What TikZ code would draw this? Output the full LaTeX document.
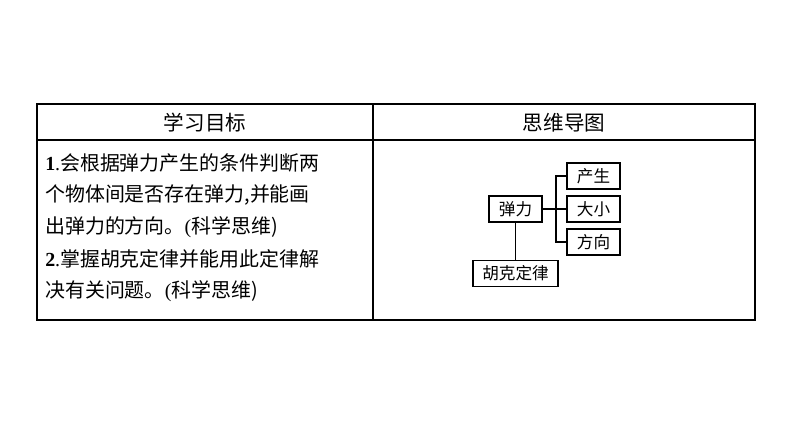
\documentclass[tikz,border=0pt]{standalone}
\usepackage{fontspec}
\setmainfont{Liberation Serif}
\newfontfamily\cjk{Noto Sans CJK SC}
\usetikzlibrary{positioning}
\tikzset{
  txt/.style={anchor=west, inner sep=0pt, font=\fontsize{15pt}{17pt}\selectfont},
  mapbox/.style={draw, line width=0.8pt, minimum height=26\px, inner sep=2pt, font=\cjk\fontsize{12.5pt}{14pt}\selectfont}
}
\newlength{\px}
\setlength{\px}{0.02646cm}
\begin{document}
\begin{tikzpicture}[x=0.02646cm, y=-0.02646cm]
    \useasboundingbox (0,0) rectangle (794,447);

    % table
    \draw[line width=0.8pt] (37,104) rectangle (755,320);
    \draw[line width=0.8pt] (37,140) -- (755,140);
    \draw[line width=0.8pt] (373,104) -- (373,320);

    \node (goalhead) at (205,123) {\cjk\fontsize{15.5pt}{17pt}\selectfont 学习目标};
    \node (maphead) at (564,123) {\cjk\fontsize{15.5pt}{17pt}\selectfont 思维导图};

    \node[txt] (goal1a) at (45,163) {\textbf{1}.{\cjk 会根据弹力产生的条件判断两}};
    \node[txt] (goal1b) at (45,195) {{\cjk 个物体间是否存在弹力}{\cjk ,}{\cjk 并能画}};
    \node[txt] (goal1c) at (45,227) {{\cjk 出弹力的方向。}(\cjk 科学思维)};
    \node[txt] (goal2a) at (45,259) {\textbf{2}.{\cjk 掌握胡克定律并能用此定律解}};
    \node[txt] (goal2b) at (45,291) {{\cjk 决有关问题。}(\cjk 科学思维)};

    % mind map
    \node[mapbox, minimum width=53\px] (force) at (515.5,209) {弹力};
    \node[mapbox, minimum width=53\px] (origin) at (593.5,176) {产生};
    \node[mapbox, minimum width=53\px] (size) at (593.5,209) {大小};
    \node[mapbox, minimum width=53\px] (dir) at (593.5,242) {方向};
    \node[mapbox, minimum width=85\px] (hooke) at (515.5,273.5) {胡克定律};

    \coordinate (fork) at (556,209);
    \draw[line width=0.8pt] (force.east) -- (size.west);
    \draw[line width=0.8pt] (origin.west) -| (fork) |- (dir.west);
    \draw[line width=0.8pt] (force.south) -- (hooke.north);
\end{tikzpicture}
\end{document}
